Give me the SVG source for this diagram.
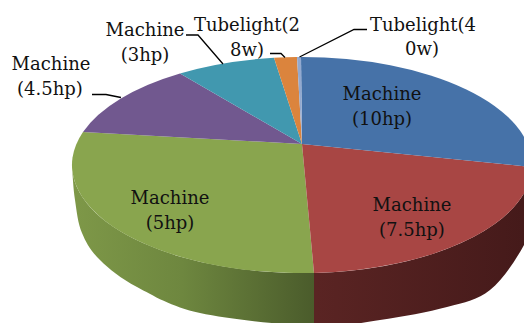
<svg xmlns="http://www.w3.org/2000/svg" width="524" height="323" viewBox="0 0 524 323">
<style>
.lbl{font-family:"DejaVu Serif","Liberation Serif",serif;font-size:18px;fill:#111;text-anchor:middle}
.lead{fill:none;stroke:#000;stroke-width:1.3}
</style>
<defs>
<linearGradient id="gSide" gradientUnits="userSpaceOnUse" x1="72" y1="0" x2="316" y2="0">
<stop offset="0" stop-color="#7e9848"/>
<stop offset="0.45" stop-color="#6e873f"/>
<stop offset="1" stop-color="#4a5b2b"/>
</linearGradient>
<linearGradient id="rSide" gradientUnits="userSpaceOnUse" x1="316" y1="0" x2="524" y2="0">
<stop offset="0" stop-color="#5a2423"/>
<stop offset="1" stop-color="#451a1a"/>
</linearGradient>
</defs>
<rect width="524" height="323" fill="#fff"/>
<g id="slice-5hp">
<path d="M314,272.9 A230,108 0 0 1 72,165 C72.5,173.3 73.3,188.7 75,200 C76.7,211.3 77.8,223 82,233 C86.2,243 90.8,251 100,260 C109.2,269 120.3,278.2 137,287 C153.7,295.8 170.5,306.5 200,313 C229.5,319.5 284,324.8 314,326 Z" fill="url(#gSide)"/>
<path d="M302,144 L314,272.9 A230,108 0 0 1 83,132 Z" fill="#89a54e"/>
<text class="lbl" x="170" y="204">Machine</text>
<text class="lbl" x="170" y="229">(5hp)</text>
</g>
<g id="slice-7-5hp">
<path d="M314,272.9 A230,108 0 0 0 524,193.3 L524,245 C515.7,260 502.8,279.7 490,290 C477.2,300.3 465.3,302 447,307 C428.7,312 402.2,316.8 380,320 C357.8,323.2 344,327.2 314,326 Z" fill="url(#rSide)"/>
<path d="M302,144 L532,167 A230,108 0 0 1 314,272.9 Z" fill="#a84644"/>
<text class="lbl" x="412" y="210.5">Machine</text>
<text class="lbl" x="412" y="235.5">(7.5hp)</text>
</g>
<g id="slice-10hp">
<path d="M302,144 L301,57 A230,108 0 0 1 532,167 Z" fill="#4672a8"/>
<text class="lbl" x="382" y="100">Machine</text>
<text class="lbl" x="382" y="125">(10hp)</text>
</g>
<g id="slice-4-5hp">
<path d="M302,144 L83,132 A230,108 0 0 1 180,73.45 Z" fill="#71588f"/>
<text class="lbl" x="51" y="70">Machine</text>
<text class="lbl" x="50" y="95">(4.5hp)</text>
</g>
<g id="slice-3hp">
<path d="M302,144 L180,73.45 A230,108 0 0 1 274,57.8 Z" fill="#4198af"/>
<text class="lbl" x="145" y="36">Machine</text>
<text class="lbl" x="145" y="60.5">(3hp)</text>
</g>
<g id="slice-28w">
<path d="M302,144 L274,57.8 A230,108 0 0 1 297,57.05 Z" fill="#db843d"/>
<text class="lbl" x="247" y="31">Tubelight(2</text>
<text class="lbl" x="247" y="55.5">8w)</text>
</g>
<g id="slice-40w">
<path d="M302,144 L297,57.05 A230,108 0 0 1 301,57 Z" fill="#93a9cf"/>
<text class="lbl" x="423" y="30.5">Tubelight(4</text>
<text class="lbl" x="422" y="55">0w)</text>
</g>
<g id="connectors">
<polyline class="lead" points="92,94.5 106,94.5 121,97.5"/>
<polyline class="lead" points="186,35 198,35 223,64"/>
<polyline class="lead" points="270,53.5 281,53.5 285,57.5"/>
<polyline class="lead" points="367,29.5 354,29.5 299.5,57"/>
</g>
</svg>
